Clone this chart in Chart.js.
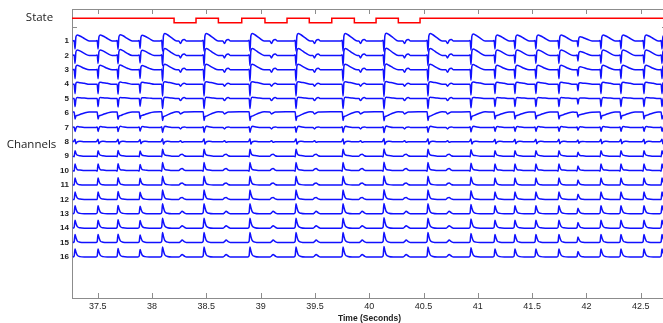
<!DOCTYPE html>
<html>
<head>
<meta charset="utf-8">
<script src="https://cdn.jsdelivr.net/npm/chart.js@4.4.0/dist/chart.umd.min.js"></script>
<style>
  html, body { margin: 0; padding: 0; background: #fff; }
  #wrap { width: 663px; height: 323px; overflow: hidden; }
  canvas { display: block; }
</style>
</head>
<body>
<div id="wrap"><canvas id="chart" width="670" height="323"></canvas></div>
<script>
// Time axis (seconds)
const X_MIN = 37.263, X_MAX = 42.742;
const xTicks = [37.5, 38, 38.5, 39, 39.5, 40, 40.5, 41, 41.5, 42, 42.5];

// Channel axis: 0 is the state row, 1..16 the channels (drawn top to bottom)
const channelTicks = [0, 1, 2, 3, 4, 5, 6, 7, 8, 9, 10, 11, 12, 13, 14, 15, 16];
const Y_MIN = -1.222, Y_MAX = 18.847;

// State trace: switch times and level after each switch
const stateTimes  = [37.263, 38.203, 38.405, 38.611, 38.826, 39.040, 39.243, 39.448, 39.655, 39.863, 40.063, 40.268, 40.468, 42.742];
const stateValues = [1, 0, 1, 0, 1, 0, 1, 0, 1, 0, 1, 0, 1, 1];
const STATE_HIGH = -0.576, STATE_LOW = -0.271;

// Beats seen on all channels, with their relative size
const beatTimes = [37.291, 37.503, 37.687, 37.890, 38.097, 38.479, 38.902, 39.326, 39.759, 40.136, 40.541,
                   40.937, 41.158, 41.342, 41.535, 41.747, 41.922, 42.134, 42.318, 42.530, 42.696];
const beatGain  = [1.0, 1.0, 1.05, 0.95, 1.25, 1.25, 1.25, 1.25, 1.25, 1.3, 1.25,
                   1.15, 1.0, 1.0, 1.0, 1.0, 0.7, 1.0, 1.0, 1.0, 1.0];
// Small deflections between the slow beats
const notchTimes = [38.267, 38.672, 39.105, 39.501, 39.925, 40.330, 40.726];

// Beat waveform per channel, read in pixels (up = positive), at these offsets (s)
const beatOffsets = [-0.02, -0.008, 0, 0.008, 0.02, 0.045, 0.085, 0.13];
const beatShapes = [
  [0, 0.5, -8, 4, 6, 5, 2.5, 0],        // 1
  [0, 0.5, -8, 3.5, 5.5, 4.5, 2, 0],    // 2
  [0, 0.5, -9, 3, 4.5, 3.5, 1.5, 0],    // 3
  [0, 0, -9.5, 1, 2, 1.5, 1, 0],        // 4
  [0, 0, -8, -1, 1, 0.8, 0.5, 0],       // 5
  [1, 1, -6, -3, -2.5, -1.5, 0, 1],     // 6
  [0, 0.5, -4, -1, 1, 0.5, 0, 0],       // 7
  [0, 1, 2.5, -2, 0, 0.5, 0, 0],        // 8
  [0, -0.5, 5.5, 3, 1, 0.5, 0, 0],      // 9
  [0, -0.5, 6.5, 3.5, 1, 0.5, 0, 0],    // 10
  [0, 0, 7, 4, 1.2, 0.3, 0, 0],         // 11
  [0, 0, 7.5, 4.5, 1.5, 0.3, 0, 0],     // 12
  [0, 1, 8, 5, 1.8, 0.4, 0, 0],         // 13
  [0, 1, 8, 5, 1.8, 0.4, 0, 0],         // 14
  [0, 1, 8, 5, 1.8, 0.4, 0, 0],         // 15
  [0, 1, 8, 5, 1.8, 0.4, 0, 0]          // 16
];
const notchOffsets = [-0.02, -0.005, 0.01, 0.03, 0.05];
const notchShapes = [
  [0, -2.5, 0.5, 1.5, 0], [0, -2.5, 0.5, 1.5, 0], [0, -2.5, 0.5, 1.5, 0],
  [0, -2, 0, 1, 0], [0, -2, 0, 1, 0], [1, -1, 0, 1, 1],
  [0, -1.5, 0, 0.5, 0], [0, 1, -0.5, 0, 0],
  [0, 1.5, 2, 0.5, 0], [0, 1.5, 2, 0.5, 0], [0, 1.5, 2, 0.5, 0], [0, 1.5, 2, 0.5, 0],
  [0, 1, 2.5, 1, 0], [0, 1, 2.5, 1, 0], [0, 1, 2.5, 1, 0], [0, 1, 2.5, 1, 0]
];
const PX_PER_CHANNEL = 14.4;

const AXIS_COLOR = '#8c8c8c';
const TRACE_COLOR = '#1010ff';

function channelPoints(ch) {
  const pts = [];
  beatTimes.forEach((t, i) => {
    beatOffsets.forEach((dt, k) => pts.push({ x: t + dt, a: beatShapes[ch - 1][k] * beatGain[i] }));
  });
  notchTimes.forEach(t => {
    notchOffsets.forEach((dt, k) => pts.push({ x: t + dt, a: notchShapes[ch - 1][k] }));
  });
  pts.sort((p, q) => p.x - q.x);
  return pts.map(p => ({ x: p.x, y: ch - p.a / PX_PER_CHANNEL }));
}

const datasets = [{
  data: stateTimes.map((t, i) => ({ x: t, y: stateValues[i] ? STATE_HIGH : STATE_LOW })),
  borderColor: '#ff0000',
  borderWidth: 1.5,
  stepped: 'before',
  pointRadius: 0
}];
for (let ch = 1; ch <= 16; ch++) {
  datasets.push({
    data: channelPoints(ch),
    borderColor: TRACE_COLOR,
    borderWidth: 1.5,
    cubicInterpolationMode: 'monotone',
    pointRadius: 0
  });
}

// axis box, inside tick marks and the two side titles
const frame = {
  id: 'frame',
  afterDraw(chart) {
    const { ctx, chartArea: a, scales: { x, y } } = chart;
    ctx.save();
    ctx.strokeStyle = AXIS_COLOR;
    ctx.lineWidth = 1;
    ctx.beginPath();
    ctx.moveTo(a.left, a.top + 0.5);
    ctx.lineTo(a.right, a.top + 0.5);
    xTicks.forEach(v => {
      const px = Math.round(x.getPixelForValue(v)) + 0.5;
      ctx.moveTo(px, a.bottom);
      ctx.lineTo(px, a.bottom - 5);
      ctx.moveTo(px, a.top);
      ctx.lineTo(px, a.top + 5);
    });
    const py = Math.round(y.getPixelForValue(0)) + 0.5;
    ctx.moveTo(a.left, py);
    ctx.lineTo(a.left + 5, py);
    ctx.moveTo(a.right, py);
    ctx.lineTo(a.right - 5, py);
    ctx.stroke();

    ctx.fillStyle = '#222';
    ctx.font = '11.5px "Open Sans"';
    ctx.textAlign = 'center';
    ctx.textBaseline = 'middle';
    ctx.fillText('State', 39.5, 17.5);
    ctx.fillText('Channels', 31.5, 145);
    ctx.restore();
  }
};

new Chart(document.getElementById('chart'), {
  type: 'line',
  data: { datasets },
  options: {
    responsive: false,
    animation: false,
    layout: { padding: { left: 0, right: 3, top: 9, bottom: 0 } },
    plugins: { legend: { display: false }, tooltip: { enabled: false } },
    scales: {
      x: {
        type: 'linear',
        min: X_MIN,
        max: X_MAX,
        afterBuildTicks: s => { s.ticks = xTicks.map(v => ({ value: v })); },
        afterFit: s => { s.height = 25; },
        ticks: {
          autoSkip: false,
          maxRotation: 0,
          padding: 3,
          color: '#262626',
          font: { family: '"Liberation Sans", Arial, sans-serif', size: 9 },
          callback: v => String(v)
        },
        grid: { display: false, drawTicks: false },
        border: { color: AXIS_COLOR, width: 1 },
        title: {
          display: true,
          text: 'Time (Seconds)',
          color: '#222',
          padding: 0,
          font: { family: '"Liberation Sans", Arial, sans-serif', size: 8.5, weight: 'bold', lineHeight: 1 }
        }
      },
      y: {
        type: 'linear',
        reverse: true,
        min: Y_MIN,
        max: Y_MAX,
        afterBuildTicks: s => { s.ticks = channelTicks.map(v => ({ value: v })); },
        afterFit: s => { s.width = 72; },
        ticks: {
          autoSkip: false,
          padding: 3,
          color: '#222',
          font: { family: '"Liberation Sans", Arial, sans-serif', size: 8, weight: 'bold' },
          callback: v => (v === 0 ? '' : String(v))
        },
        grid: { display: false, drawTicks: false },
        border: { color: AXIS_COLOR, width: 1 }
      }
    }
  },
  plugins: [frame]
});
</script>
</body>
</html>
